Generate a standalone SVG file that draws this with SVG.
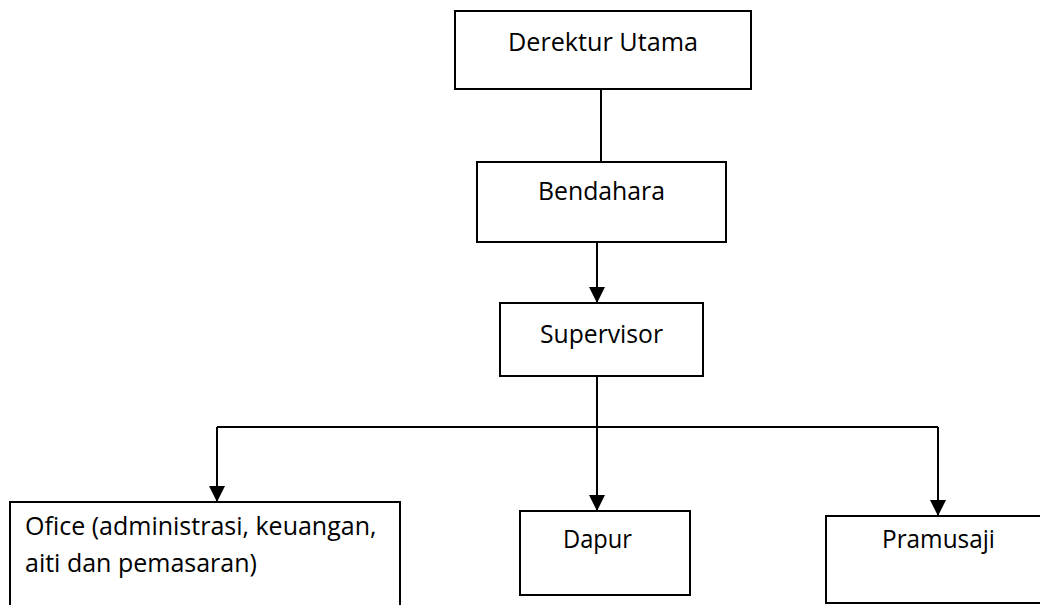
<svg xmlns="http://www.w3.org/2000/svg" width="1040" height="605" viewBox="0 0 1040 605">
<style>
.box{fill:#fff;stroke:#000;stroke-width:2}
.lbl{font-family:"Open Sans","Noto Sans",sans-serif;font-size:25px;fill:#000}
.conn{fill:none;stroke:#000;stroke-width:2}
</style>
<defs>
<marker id="arr" markerUnits="userSpaceOnUse" markerWidth="16" markerHeight="16" viewBox="0 0 16 16" refX="16" refY="8" orient="auto">
<path d="M0,0 L16,8 L0,16 Z" fill="#000"/>
</marker>
</defs>
<rect width="1040" height="605" fill="#fff"/>
<g id="connectors">
<line class="conn" x1="601" y1="89" x2="601" y2="162"/>
<line class="conn" x1="597" y1="242" x2="597" y2="303" marker-end="url(#arr)"/>
<polyline class="conn" points="597,376 597,427"/>
<line class="conn" x1="217" y1="427" x2="938" y2="427"/>
<line class="conn" x1="217" y1="427" x2="217" y2="502" marker-end="url(#arr)"/>
<line class="conn" x1="597" y1="427" x2="597" y2="511" marker-end="url(#arr)"/>
<line class="conn" x1="938" y1="427" x2="938" y2="516" marker-end="url(#arr)"/>
</g>
<g id="derektur">
<rect class="box" x="455" y="11" width="296" height="78"/>
<text class="lbl" x="508" y="51" textLength="190" lengthAdjust="spacingAndGlyphs">Derektur Utama</text>
</g>
<g id="bendahara">
<rect class="box" x="477" y="162" width="249" height="80"/>
<text class="lbl" x="538" y="200" textLength="127" lengthAdjust="spacingAndGlyphs">Bendahara</text>
</g>
<g id="supervisor">
<rect class="box" x="500" y="303" width="203" height="73"/>
<text class="lbl" x="540" y="343" textLength="123" lengthAdjust="spacingAndGlyphs">Supervisor</text>
</g>
<g id="office">
<rect class="box" x="10" y="502" width="390" height="120"/>
<text class="lbl" x="25" y="535">Ofice (administrasi, keuangan,</text>
<text class="lbl" x="25" y="572">aiti dan pemasaran)</text>
</g>
<g id="dapur">
<rect class="box" x="520" y="511" width="170" height="84"/>
<text class="lbl" x="563" y="548" textLength="69" lengthAdjust="spacingAndGlyphs">Dapur</text>
</g>
<g id="pramusaji">
<rect class="box" x="826" y="516" width="226" height="87"/>
<text class="lbl" x="882" y="548" textLength="113" lengthAdjust="spacingAndGlyphs">Pramusaji</text>
</g>
</svg>
